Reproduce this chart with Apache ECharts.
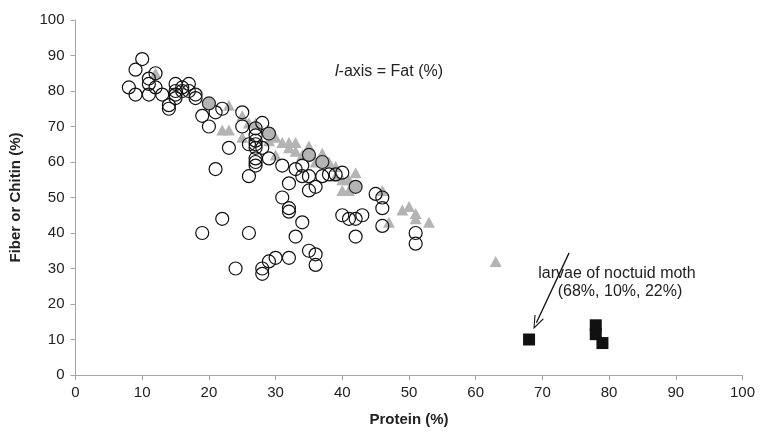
<!DOCTYPE html>
<html>
<head>
<meta charset="utf-8">
<script src="https://cdn.jsdelivr.net/npm/echarts@6/dist/echarts.min.js"></script>
<style>
  html, body { margin: 0; padding: 0; background: #fff; }
  #chart { width: 763px; height: 432px; }
</style>
</head>
<body>
<div id="chart"></div>
<script>
// open circles [protein, fiber]
var circleData = [
  [8, 81], [9, 86], [9, 79], [10, 89], [11, 83.5], [11, 82], [11, 79], [12, 85], [12, 81],
  [13, 79], [14, 76], [14, 75], [15, 82], [15, 80], [15, 79], [15, 78], [16, 81], [16, 80],
  [17, 82], [17, 80], [18, 79], [18, 78], [19, 73], [20, 70], [21, 74], [22, 75], [21, 58],
  [23, 64], [25, 74], [25, 70], [26, 65], [26, 56], [27, 69.5], [27, 67.5], [27, 66], [27, 65],
  [27, 64], [27, 61], [27, 60], [27, 59], [28, 71], [28, 64], [29, 61], [31, 59], [33, 58],
  [34, 59], [34, 56], [35, 56], [32, 54], [35, 52], [36, 53], [37, 56], [38, 56.5], [39, 56.5],
  [40, 57], [45, 51], [46, 50], [46, 47], [46, 42], [31, 50], [32, 47], [32, 46], [34, 43],
  [33, 39], [40, 45], [41, 44], [42, 44], [43, 45], [42, 39], [35, 35], [36, 34], [36, 31],
  [51, 40], [51, 37], [32, 33], [30, 33], [29, 32], [28, 30], [28, 28.5], [22, 44], [19, 40],
  [26, 40], [24, 30]
];
// grey-filled circles
var greyCircleData = [[20, 76.5], [29, 68], [35, 62], [37, 60], [42, 53]];
// grey triangles
var triangleData = [
  [12, 85], [20, 77], [23, 76], [22, 69], [23, 69], [25, 67], [25, 73], [26, 71], [27, 71],
  [29, 66], [30, 67], [30, 62], [31, 65.5], [32, 65.5], [33, 65.5], [32, 64], [33, 63],
  [34, 62], [35, 64.5], [36, 60], [37, 62.5], [38, 60], [39, 58.7], [39, 56], [40, 55], [41, 55],
  [42, 57], [40, 52], [41, 52], [46, 52], [47, 43], [49, 46.5], [50, 47.5], [51, 45.5],
  [51, 44], [53, 43], [63, 32]
];
// black squares
var squareData = [[68, 10], [78, 14], [78, 11.5], [79, 9]];
// arrow from label to the noctuid moth point
var arrowFrom = [74, 34.4];
var arrowTo = [69.1, 14.7];

var xTicks = [0, 10, 20, 30, 40, 50, 60, 70, 80, 90, 100];
var yTicks = [0, 10, 20, 30, 40, 50, 60, 70, 80, 90, 100];

var font = 'Liberation Sans, Arial, Helvetica, sans-serif';
var axisGrey = '#a6a6a6';
var textColor = '#222';

var chart = echarts.init(document.getElementById('chart'));

chart.setOption({
  animation: false,
  backgroundColor: '#fff',
  grid: {
    left: 75.5,
    right: 20.5,
    top: 20,
    bottom: 57
  },
  xAxis: {
    type: 'value',
    min: xTicks[0],
    max: xTicks[xTicks.length - 1],
    interval: 10,
    name: 'Protein (%)',
    nameLocation: 'middle',
    nameGap: 37,
    nameTextStyle: { fontFamily: font, fontWeight: 'bold', fontSize: 15, color: textColor },
    axisLine: { lineStyle: { color: axisGrey, width: 1 } },
    axisTick: { show: true, length: 5, lineStyle: { color: axisGrey } },
    axisLabel: { fontFamily: font, fontSize: 15, color: textColor, margin: 10 },
    splitLine: { show: false }
  },
  yAxis: {
    type: 'value',
    min: yTicks[0],
    max: yTicks[yTicks.length - 1],
    interval: 10,
    name: 'Fiber or Chitin (%)',
    nameLocation: 'middle',
    nameGap: 52,
    nameRotate: 90,
    nameTextStyle: { fontFamily: font, fontWeight: 'bold', fontSize: 15, color: textColor },
    axisLine: { show: true, lineStyle: { color: axisGrey, width: 1 } },
    axisTick: { show: true, length: 5, lineStyle: { color: axisGrey } },
    axisLabel: { fontFamily: font, fontSize: 15, color: textColor, margin: 11 },
    splitLine: { show: false }
  },
  graphic: [
    {
      type: 'text',
      x: 335,
      y: 72,
      style: {
        text: '{i|l}-axis = Fat (%)',
        font: '16px ' + font,
        fill: textColor,
        verticalAlign: 'middle',
        rich: {
          i: { fontStyle: 'italic', fontSize: 16, fontFamily: font, fill: textColor }
        }
      }
    },
    {
      type: 'text',
      x: 617,
      y: 274,
      style: {
        text: 'larvae of noctuid moth',
        font: '16px ' + font,
        fill: textColor,
        align: 'center',
        verticalAlign: 'middle'
      }
    },
    {
      type: 'text',
      x: 620,
      y: 292,
      style: {
        text: '(68%, 10%, 22%)',
        font: '16px ' + font,
        fill: textColor,
        align: 'center',
        verticalAlign: 'middle'
      }
    }
  ],
  series: [
    {
      name: 'triangles',
      type: 'scatter',
      symbol: 'triangle',
      symbolSize: [12, 11],
      z: 1,
      itemStyle: { color: '#b4b4b4', opacity: 1 },
      data: triangleData
    },
    {
      name: 'circles',
      type: 'scatter',
      symbol: 'circle',
      symbolSize: 13,
      z: 2,
      itemStyle: { color: 'rgba(255,255,255,0)', borderColor: '#111', borderWidth: 1.2, opacity: 1 },
      data: circleData
    },
    {
      name: 'grey circles',
      type: 'scatter',
      symbol: 'circle',
      symbolSize: 13,
      z: 3,
      itemStyle: { color: '#b4b4b4', borderColor: '#222', borderWidth: 1.2, opacity: 1 },
      data: greyCircleData
    },
    {
      name: 'squares',
      type: 'scatter',
      symbol: 'rect',
      symbolSize: 12,
      z: 4,
      itemStyle: { color: '#111', opacity: 1 },
      data: squareData,
      markLine: {
        silent: true,
        symbol: ['none', 'path://M0,0 L6,12 L5,12.8 L0,2.6 L-5,12.8 L-6,12 Z'],
        symbolSize: [10, 14],
        label: { show: false },
        lineStyle: { color: '#111', width: 1.3, type: 'solid', opacity: 1 },
        data: [[{ coord: arrowFrom }, { coord: arrowTo }]]
      }
    }
  ]
});
</script>
</body>
</html>
